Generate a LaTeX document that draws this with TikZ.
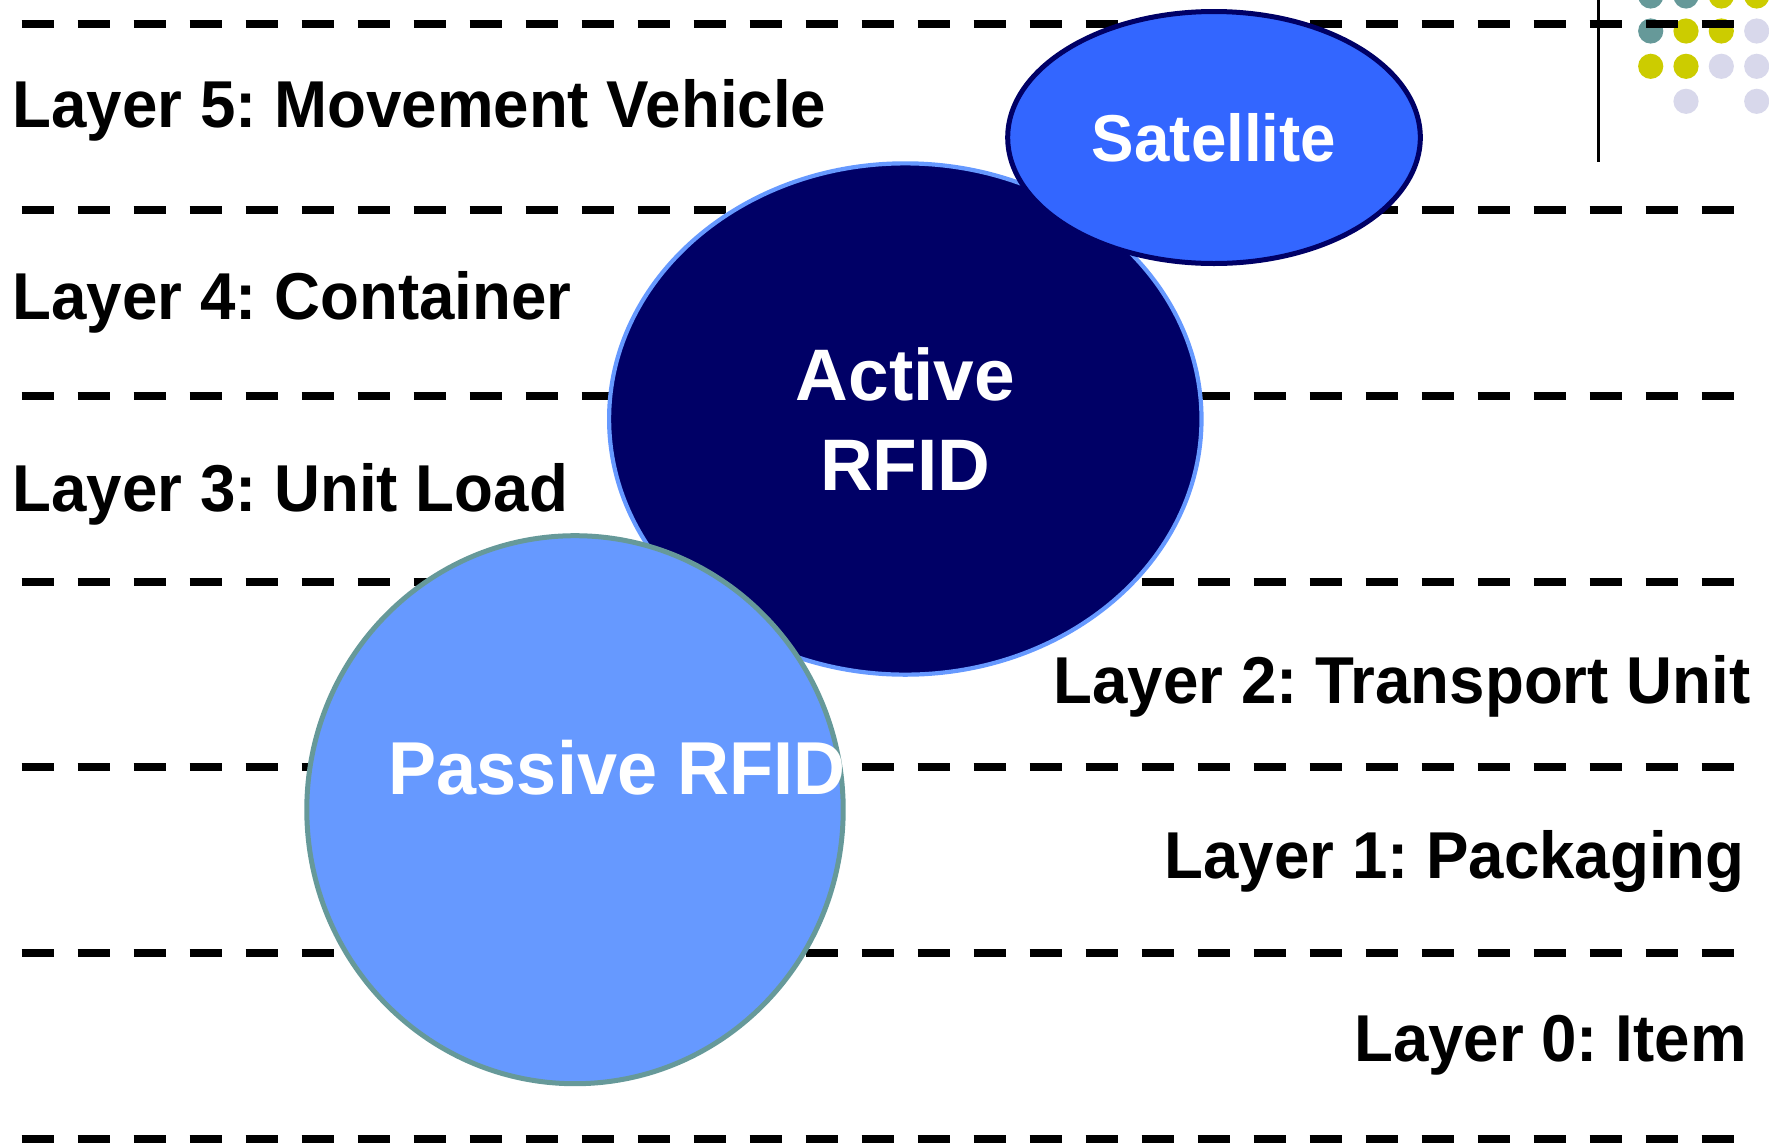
\documentclass[tikz,border=0pt]{standalone}
\usepackage{fontspec}
\setmainfont{Liberation Sans}
\newfontfamily\condfont{Liberation Sans}[FakeStretch=0.96]
\usetikzlibrary{shapes.geometric}
\definecolor{navyc}{HTML}{000066}
\definecolor{satblue}{HTML}{3366FF}
\definecolor{lightblue}{HTML}{6699FF}
\definecolor{tealc}{HTML}{669999}
\definecolor{olivey}{HTML}{CCCC00}
\definecolor{lavc}{HTML}{D8D8EB}
\tikzset{
  dashline/.style={line width=8pt, dash pattern=on 32pt off 24pt, line cap=butt, black},
  layerlbl/.style={inner sep=0pt, font=\frenchspacing\condfont\bfseries\fontsize{66.3}{70}\selectfont, text=black},
  bubtext/.style={text=white, align=center},
}
\begin{document}
\frenchspacing
\begin{tikzpicture}[x=1pt,y=-1pt]
\useasboundingbox (0,0) rectangle (1769,1144);
% decorative dots
\foreach \x/\y/\c in {1650.7/-4/tealc,1686/-4/tealc,1721.3/-4/olivey,1756.7/-4/olivey,
  1650.7/31/tealc,1686/31/olivey,1721.3/31/olivey,1756.7/31/lavc,
  1650.7/66.3/olivey,1686/66.3/olivey,1721.3/66.3/lavc,1756.7/66.3/lavc,
  1686/101.3/lavc,1756.7/101.3/lavc}
  \fill[\c] (\x,\y) circle (12.6pt);
% dashed separators
\foreach \y in {24.2,210,395.8,581.6,767.4,953.2,1139}
  \draw[dashline] (21.7,\y) -- (1733.7,\y);
% vertical rule
\draw[line width=3.3pt] (1598.3,0) -- (1598.3,161.7);
% bubbles
\node[ellipse, draw=lightblue, fill=navyc, line width=4.2pt, minimum width=592.4pt, minimum height=511.3pt, inner sep=0pt,
  bubtext, font=\bfseries\fontsize{73}{90}\selectfont] (active) at (905.3,419) {Active\\RFID};
\node[ellipse, draw=navyc, fill=satblue, line width=5pt, minimum width=412.6pt, minimum height=252pt, inner sep=0pt,
  bubtext, font=\frenchspacing\condfont\bfseries\fontsize{66.3}{70}\selectfont] (sat) at (1214,137.5) {Satellite};
\node[ellipse, draw=tealc, fill=lightblue, line width=5pt, minimum width=536.4pt, minimum height=548pt, inner sep=0pt] (passive) at (575,809.7) {};
\node[anchor=base, inner sep=0pt, bubtext, font=\frenchspacing\condfont\bfseries\fontsize{75}{80}\selectfont] (passivetxt) at (617,794.3) {Passive RFID};
% layer labels
\node[layerlbl, anchor=base west] (l5) at (12.5,127.7) {Layer 5: Movement Vehicle};
\node[layerlbl, anchor=base west] (l4) at (12.5,319.3) {Layer 4: Container};
\node[layerlbl, anchor=base west] (l3) at (12.5,511.7) {Layer 3: Unit Load};
\node[layerlbl, anchor=base east] (l2) at (1750.5,703.3) {Layer 2: Transport Unit};
\node[layerlbl, anchor=base east] (l1) at (1745,878.3) {Layer 1: Packaging};
\node[layerlbl, anchor=base east] (l0) at (1747,1061.7) {Layer 0: Item};
\end{tikzpicture}
\end{document}
